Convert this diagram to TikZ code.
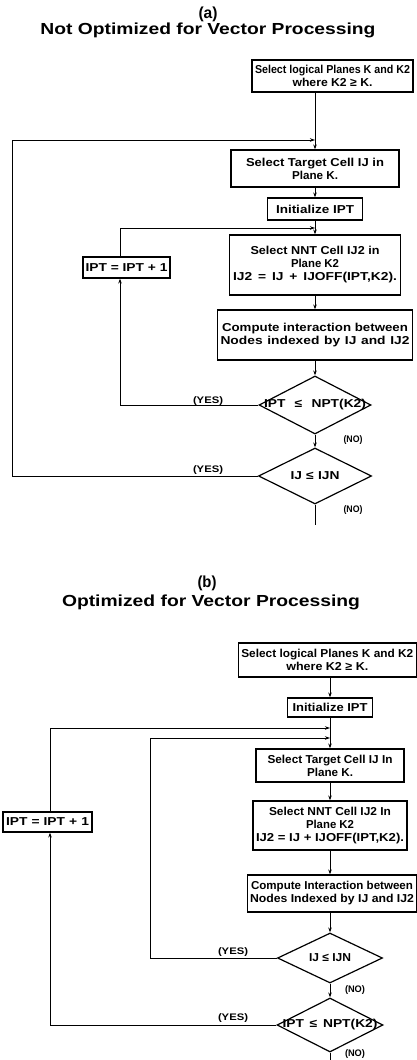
\documentclass[tikz,border=0pt]{standalone}
\usepackage{fontspec}
\setmainfont{Liberation Sans}
\usetikzlibrary{shapes.geometric,arrows.meta}
\newsavebox{\fitbox}
% pure horizontal scaling to a given width
\newcommand{\fits}[2]{\sbox{\fitbox}{#2}\pgfmathsetmacro{\fitsx}{#1/\wd\fitbox}\scalebox{\fitsx}[1]{\usebox{\fitbox}}}
% limited glyph stretch plus wider word spaces, to a given width
\newcommand{\fitw}[2]{%
  \sbox{\fitbox}{#2}%
  \pgfmathsetmacro{\fitg}{max(0.9,min(1.2,#1/\wd\fitbox))}%
  \pgfmathsetmacro{\fitinner}{#1/\fitg}%
  \scalebox{\fitg}[1]{\hbox to \fitinner pt{\spaceskip=0.28em plus 1fil minus 0.12em\relax #2}}}
\begin{document}
\begin{tikzpicture}[x=1pt,y=-1pt,
  box/.style={draw,line width=1.2pt,inner sep=0pt,align=center,font=\fontsize{11.5}{13}\selectfont\bfseries},
  dec/.style={draw,diamond,line width=1.2pt,inner sep=0pt,font=\fontsize{11.5}{13}\selectfont\bfseries},
  lbl/.style={font=\fontsize{9.5}{11}\selectfont\bfseries,inner sep=0pt},
  ttl/.style={font=\fontsize{16}{18}\selectfont\bfseries,inner sep=0pt},
  flow/.style={line width=0.9pt,-{Stealth[length=5pt,width=3.5pt]}},
  plain/.style={line width=0.9pt}]
\useasboundingbox (0,0) rectangle (417,1060);

% ---------------- (a) ----------------
\node[ttl] (ta) at (208,14) {\fits{19}{(a)}};
\node[ttl] (tta) at (208,30) {\fits{335}{Not Optimized for Vector Processing}};

\node[box,minimum width=161,minimum height=32] (s1a) at (332.5,76)
  {\fitw{155}{Select logical Planes K and K2}\\\fitw{80}{where K2 ≥ K.}};
\node[box,minimum width=168,minimum height=37] (tca) at (315,168.5)
  {\fitw{138}{Select Target Cell IJ in}\\\fitw{46}{Plane K.}};
\node[box,minimum width=95,minimum height=22] (inita) at (315,209)
  {\fitw{78}{Initialize IPT}};
\node[box,minimum width=171,minimum height=60] (nnta) at (315,265)
  {\fitw{129}{Select NNT Cell IJ2 in}\\\fitw{48}{Plane K2}\\\fitw{164}{IJ2 = IJ + IJOFF(IPT,K2).}};
\node[box,minimum width=87,minimum height=21] (ipta) at (126.5,267.5)
  {\fitw{82}{IPT = IPT + 1}};
\node[box,minimum width=195,minimum height=50] (compa) at (315,335)
  {\fitw{186}{Compute interaction between}\\\fitw{189}{Nodes indexed by IJ and IJ2}};
\node[dec,minimum width=112,minimum height=58] (d1a) at (315,405)
  {\makebox[0pt]{\fitw{102}{IPT ≤ NPT(K2)}}};
\node[dec,minimum width=113,minimum height=56] (d2a) at (315,476)
  {\makebox[0pt]{\fitw{49}{IJ ≤ IJN}}};

\coordinate (ia) at (120,0);
\coordinate (ja) at (315,228);
\coordinate (oa) at (12,140);
\coordinate (ka) at (315,140);
\coordinate (ea) at (315,525);

\draw[flow] (s1a.south -| tca.north) -- (tca.north);
\draw[flow] (tca) -- (inita);
\draw[flow] (inita) -- (nnta);
\draw[flow] (nnta) -- (compa);
\draw[flow] (compa) -- (d1a);
\draw[flow] (d1a) -- (d2a);
\draw[plain] (d2a.south) -- (ea);
\draw[flow] (d1a.west) -| (ipta.south -| ia);
\draw[flow] (ipta.north -| ia) |- (ja);
\draw[flow] (d2a.west) -| (oa) -- (ka);

\node[lbl] (ya1) at (208,401) {\fits{30}{(YES)}};
\node[lbl] (ya2) at (208,470) {\fits{30}{(YES)}};
\node[lbl] (na1) at (353,440) {\fits{19}{(NO)}};
\node[lbl] (na2) at (353,510) {\fits{19}{(NO)}};

% ---------------- (b) ----------------
\node[ttl] (tb) at (207,583) {\fits{19}{(b)}};
\node[ttl] (ttb) at (211,602) {\fits{298}{Optimized for Vector Processing}};

\node[box,minimum width=178,minimum height=34] (s1b) at (327.3,660)
  {\fitw{172}{Select logical Planes K and K2}\\\fitw{82}{where K2 ≥ K.}};
\node[box,minimum width=85,minimum height=19] (initb) at (330,707.5)
  {\fitw{75}{Initialize IPT}};
\node[box,minimum width=148,minimum height=33] (tcb) at (330,765.5)
  {\fitw{125}{Select Target Cell IJ In}\\\fitw{46}{Plane K.}};
\node[box,minimum width=154,minimum height=49] (nntb) at (330,825.5)
  {\fitw{122}{Select NNT Cell IJ2 In}\\\fitw{48}{Plane K2}\\\fitw{148}{IJ2 = IJ + IJOFF(IPT,K2).}};
\node[box,minimum width=89,minimum height=20] (iptb) at (47.5,822)
  {\fitw{83}{IPT = IPT + 1}};
\node[box,minimum width=169,minimum height=37] (compb) at (332,893.5)
  {\fitw{162}{Compute Interaction between}\\\fitw{164}{Nodes Indexed by IJ and IJ2}};
\node[dec,minimum width=105,minimum height=50] (d1b) at (330,958)
  {\makebox[0pt]{\fitw{42}{IJ ≤ IJN}}};
\node[dec,minimum width=106,minimum height=54] (d2b) at (330,1025)
  {\makebox[0pt]{\fitw{95}{IPT ≤ NPT(K2)}}};

\coordinate (ob) at (50,0);
\coordinate (kb) at (330,728);
\coordinate (ib) at (150,738);
\coordinate (jb) at (330,738);
\coordinate (eb) at (330,1060);

\draw[flow] (s1b.south -| initb.north) -- (initb.north);
\draw[flow] (initb) -- (tcb);
\draw[flow] (tcb) -- (nntb);
\draw[flow] (nntb.south) -- (nntb.south |- compb.north);
\draw[flow] (compb.south -| d1b.north) -- (d1b.north);
\draw[flow] (d1b) -- (d2b);
\draw[plain] (d2b.south) -- (eb);
\draw[flow] (d1b.west) -| (ib) -- (jb);
\draw[flow] (d2b.west) -| (iptb.south -| ob);
\draw[flow] (iptb.north -| ob) |- (kb);

\node[lbl] (yb1) at (233,952) {\fits{30}{(YES)}};
\node[lbl] (yb2) at (233,1018) {\fits{30}{(YES)}};
\node[lbl] (nb1) at (355,990) {\fits{20}{(NO)}};
\node[lbl] (nb2) at (355,1054) {\fits{20}{(NO)}};
\end{tikzpicture}
\end{document}
